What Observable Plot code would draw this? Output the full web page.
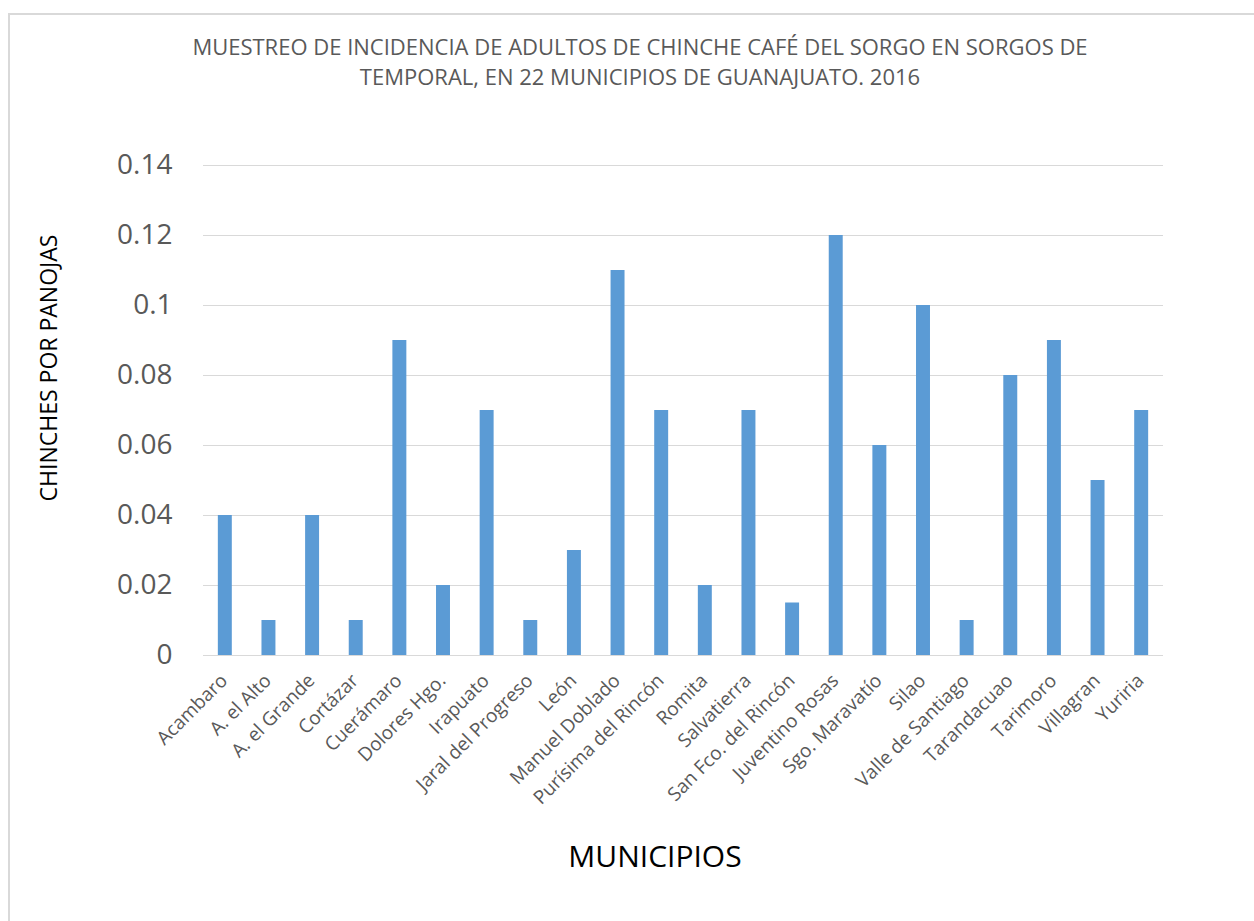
<!DOCTYPE html>
<html>
<head>
<meta charset="utf-8">
<script src="https://cdn.jsdelivr.net/npm/d3@7"></script>
<script src="https://cdn.jsdelivr.net/npm/@observablehq/plot@0.6"></script>
<style>
  html, body { margin: 0; padding: 0; background: #fff; }
  body { position: relative; width: 1254px; height: 921px; overflow: hidden; font-family: "Open Sans", sans-serif; }
  #frame { position: absolute; left: 8px; top: 13px; width: 1300px; height: 1000px; border-left: 2px solid #d9d9d9; border-top: 2px solid #d9d9d9; box-sizing: border-box; }
  #title { position: relative; height: 110px; box-sizing: border-box; padding-top: 31px; padding-left: 26px; text-align: center; font-size: 22px; line-height: 30px; color: #595959; font-weight: 400; }
  #chart { position: relative; height: 710px; }
  #ylabel { position: absolute; left: 48px; top: 368px; transform: translate(-50%, -50%) rotate(-90deg); white-space: nowrap; font-size: 23px; color: #000; }
  #xlabel { position: absolute; left: 655px; top: 855px; transform: translate(-50%, -50%); white-space: nowrap; font-size: 30px; color: #000; }
</style>
</head>
<body>
<div id="frame"></div>
<div id="title">MUESTREO DE INCIDENCIA DE ADULTOS DE CHINCHE CAFÉ DEL SORGO EN SORGOS DE<br>TEMPORAL, EN 22 MUNICIPIOS DE GUANAJUATO. 2016</div>
<div id="chart"></div>
<div id="ylabel">CHINCHES POR PANOJAS</div>
<div id="xlabel">MUNICIPIOS</div>
<script>
const municipios = ["Acambaro", "A. el Alto", "A. el Grande", "Cortázar", "Cuerámaro", "Dolores Hgo.", "Irapuato", "Jaral del Progreso", "León", "Manuel Doblado", "Purísima del Rincón", "Romita", "Salvatierra", "San Fco. del Rincón", "Juventino Rosas", "Sgo. Maravatío", "Silao", "Valle de Santiago", "Tarandacuao", "Tarimoro", "Villagran", "Yuriria"];
const chinches = [0.04, 0.01, 0.04, 0.01, 0.09, 0.02, 0.07, 0.01, 0.03, 0.11, 0.07, 0.02, 0.07, 0.015, 0.12, 0.06, 0.1, 0.01, 0.08, 0.09, 0.05, 0.07];
const yTicks = [0, 0.02, 0.04, 0.06, 0.08, 0.1, 0.12, 0.14];
const yTickLabels = ["0", "0.02", "0.04", "0.06", "0.08", "0.1", "0.12", "0.14"];

const data = municipios.map((m, i) => ({municipio: m, valor: chinches[i]}));

const chart = Plot.plot({
  width: 1254,
  height: 710,
  marginTop: 55,
  marginBottom: 165,
  marginLeft: 203,
  marginRight: 91,
  style: {background: "transparent", fontFamily: "'Open Sans', sans-serif", color: "#595959"},
  x: {domain: municipios, paddingInner: 0.68, paddingOuter: 0.34, round: false, label: null},
  y: {domain: [0, 0.14], label: null},
  marks: [
    Plot.gridY(yTicks, {stroke: "#d9d9d9", strokeOpacity: 1, strokeWidth: 1}),
    Plot.barY(data, {x: "municipio", y: "valor", fill: "#5b9bd5"}),
    Plot.ruleY([0], {stroke: "#d9d9d9", strokeWidth: 1}),
    Plot.axisY(yTicks, {tickSize: 0, tickPadding: 31, fontSize: 28, tickFormat: (d) => yTickLabels[yTicks.indexOf(d)], label: null}),
    Plot.axisX({tickSize: 0, tickPadding: 6, tickRotate: -45, fontSize: 19, dx: -1, dy: 16, label: null})
  ]
});
document.getElementById("chart").appendChild(chart);
</script>
</body>
</html>
